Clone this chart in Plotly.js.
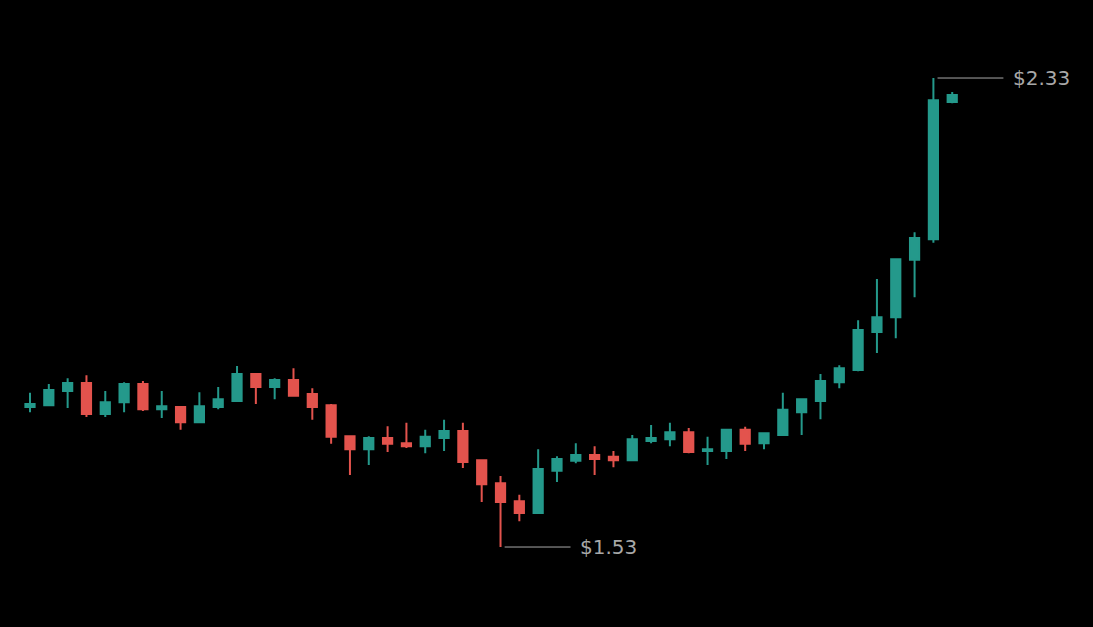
<!DOCTYPE html>
<html>
<head>
<meta charset="utf-8">
<script src="https://cdn.plot.ly/plotly-3.0.1.min.js"></script>
<style>
  html, body { margin: 0; padding: 0; background: #000; }
  #chart { width: 1093px; height: 627px; }
</style>
</head>
<body>
<div id="chart"></div>
<script>
// one candle per session, oldest first
var sessions = [];
for (var i = 0; i < 50; i++) sessions.push(i);

var opens  = [1.769, 1.772, 1.796, 1.810, 1.757, 1.777, 1.808, 1.765, 1.769, 1.743,
              1.769, 1.779, 1.825, 1.803, 1.815, 1.791, 1.772, 1.719, 1.697, 1.716,
              1.707, 1.702, 1.716, 1.728, 1.678, 1.639, 1.608, 1.588, 1.660, 1.677,
              1.687, 1.684, 1.678, 1.711, 1.714, 1.726, 1.694, 1.694, 1.730, 1.707,
              1.721, 1.760, 1.779, 1.811, 1.832, 1.897, 1.922, 2.020, 2.055, 2.289];
var highs  = [1.793, 1.808, 1.818, 1.823, 1.796, 1.811, 1.813, 1.796, 1.770, 1.794,
              1.803, 1.839, 1.827, 1.818, 1.835, 1.801, 1.774, 1.719, 1.719, 1.736,
              1.742, 1.730, 1.747, 1.742, 1.678, 1.651, 1.619, 1.697, 1.685, 1.707,
              1.702, 1.694, 1.721, 1.738, 1.742, 1.733, 1.718, 1.731, 1.735, 1.726,
              1.793, 1.782, 1.825, 1.840, 1.917, 1.987, 2.021, 2.067, 2.330, 2.306];
var lows   = [1.760, 1.772, 1.767, 1.752, 1.752, 1.760, 1.762, 1.750, 1.730, 1.742,
              1.765, 1.779, 1.774, 1.782, 1.788, 1.747, 1.706, 1.653, 1.670, 1.692,
              1.699, 1.690, 1.694, 1.665, 1.607, 1.530, 1.574, 1.588, 1.641, 1.673,
              1.653, 1.666, 1.678, 1.707, 1.702, 1.690, 1.670, 1.680, 1.694, 1.697,
              1.721, 1.721, 1.748, 1.801, 1.830, 1.861, 1.886, 1.956, 2.049, 2.287];
var closes = [1.774, 1.798, 1.810, 1.757, 1.777, 1.808, 1.765, 1.770, 1.743, 1.770,
              1.782, 1.825, 1.803, 1.815, 1.788, 1.769, 1.718, 1.697, 1.716, 1.706,
              1.702, 1.718, 1.728, 1.675, 1.637, 1.607, 1.588, 1.663, 1.680, 1.687,
              1.680, 1.678, 1.714, 1.716, 1.726, 1.692, 1.697, 1.730, 1.706, 1.724,
              1.764, 1.782, 1.813, 1.835, 1.900, 1.922, 2.021, 2.057, 2.292, 2.301];

var upColor = '#24998b';
var downColor = '#e3534d';
var labelColor = '#a8a8a8';

// locate the extreme high and low for the price callouts
var hiIdx = 0, loIdx = 0;
for (var j = 1; j < highs.length; j++) {
  if (highs[j] > highs[hiIdx]) hiIdx = j;
  if (lows[j] < lows[loIdx]) loIdx = j;
}

var trace = {
  type: 'candlestick',
  x: sessions,
  open: opens,
  high: highs,
  low: lows,
  close: closes,
  increasing: {line: {color: upColor, width: 2}, fillcolor: upColor},
  decreasing: {line: {color: downColor, width: 2}, fillcolor: downColor},
  whiskerwidth: 0,
  hoverinfo: 'skip',
  showlegend: false
};

function callout(idx, price) {
  return {
    shape: {
      type: 'line', xref: 'x', yref: 'y',
      x0: sessions[idx] + 0.22, x1: sessions[idx] + 3.72,
      y0: price, y1: price,
      line: {color: labelColor, width: 1}
    },
    note: {
      xref: 'x', yref: 'y',
      x: sessions[idx] + 4.12, y: price,
      xanchor: 'left', yanchor: 'middle',
      text: '$' + price.toFixed(2),
      showarrow: false,
      font: {family: 'DejaVu Sans', size: 20, color: labelColor}
    }
  };
}

var hi = callout(hiIdx, highs[hiIdx]);
var lo = callout(loIdx, lows[loIdx]);

var layout = {
  width: 1093,
  height: 627,
  margin: {l: 0, r: 0, t: 0, b: 0},
  paper_bgcolor: '#000',
  plot_bgcolor: '#000',
  boxgap: 0.3,
  xaxis: {
    range: [-1.594, 56.48],
    visible: false,
    rangeslider: {visible: false},
    fixedrange: true
  },
  yaxis: {
    range: [1.3936, 2.4631],
    visible: false,
    fixedrange: true
  },
  shapes: [hi.shape, lo.shape],
  annotations: [hi.note, lo.note]
};

Plotly.newPlot('chart', [trace], layout, {displayModeBar: false, staticPlot: true});
</script>
</body>
</html>
